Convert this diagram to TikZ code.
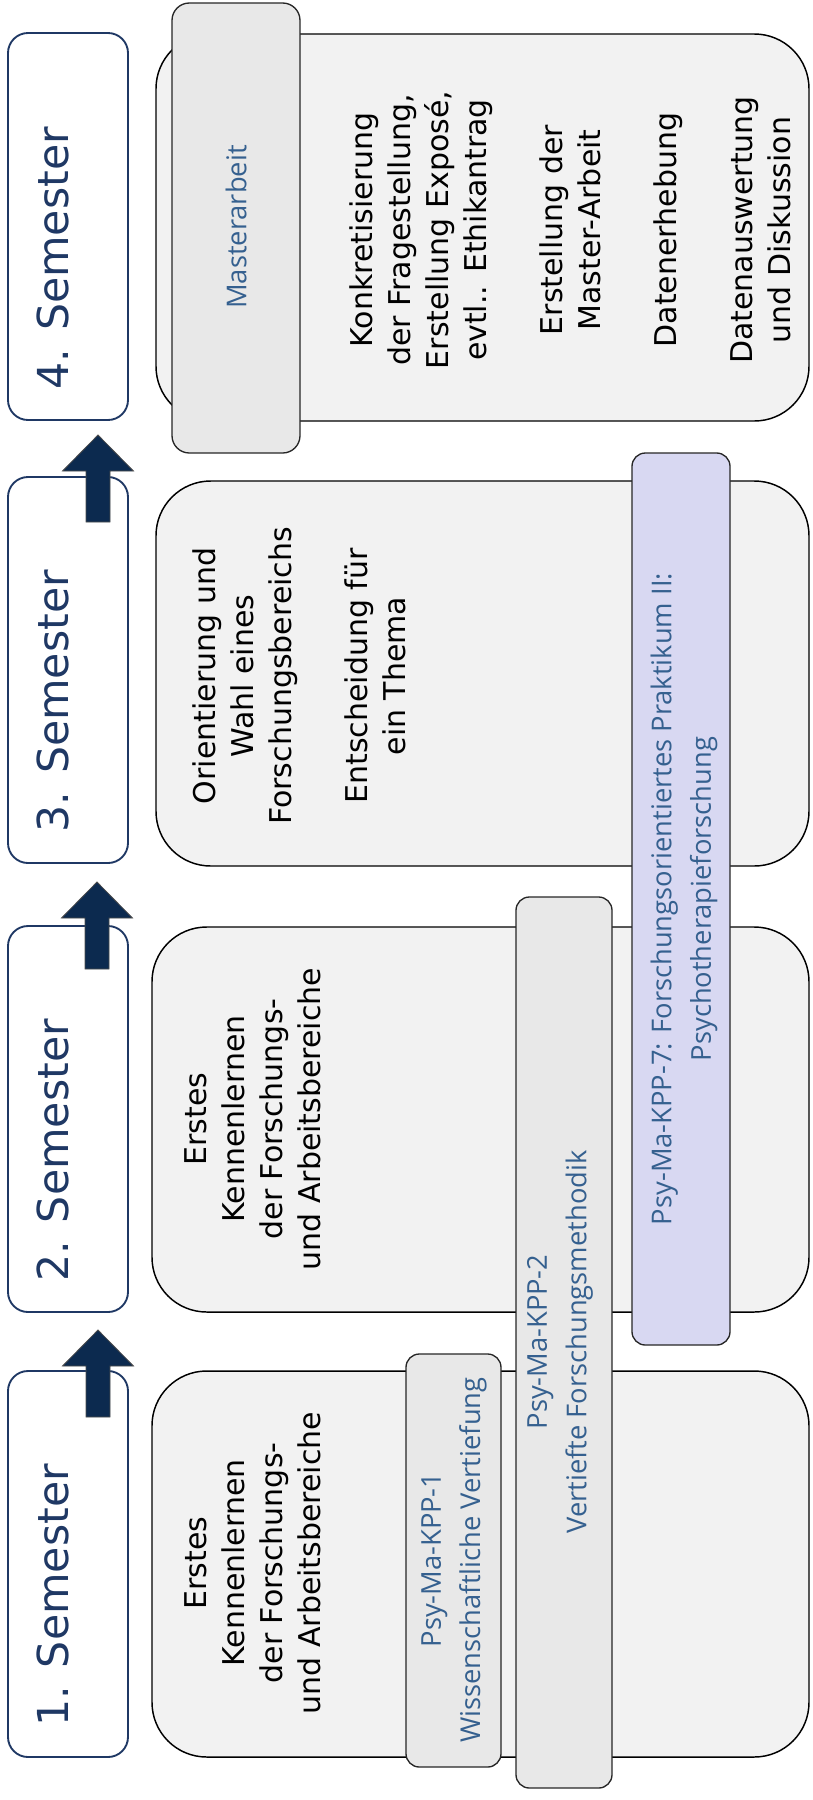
\documentclass[tikz,border=0pt]{standalone}
\usepackage{fontspec}
\setmainfont{DejaVu Sans}
\newfontfamily\modfont{Open Sans}
\usetikzlibrary{fit, calc}
\definecolor{semblue}{HTML}{1F3864}
\definecolor{arrowblue}{HTML}{0C2A4F}
\definecolor{modblue}{HTML}{35608F}
\definecolor{boxgrey}{HTML}{F2F2F2}
\definecolor{bargrey}{HTML}{E8E8E8}
\definecolor{barlila}{HTML}{D8D8F2}
\newcommand{\blockarrow}[2]{%
  \draw[semarrow] (#1-12,#2+87) -- (#1-12,#2+36) -- (#1-35.5,#2+36) -- (#1,#2)
    -- (#1+35.5,#2+36) -- (#1+12,#2+36) -- (#1+12,#2+87) -- cycle;}

\begin{document}
\begin{tikzpicture}[x=0.75pt, y=-0.75pt,
  semester/.style={draw=semblue, line width=1.4pt, rounded corners=15pt, inner sep=0pt},
  semtext/.style={rotate=90, anchor=west, inner sep=0pt, text=semblue, font=\fontsize{32}{38}\selectfont},
  bigbox/.style={draw=black, fill=boxgrey, line width=1.1pt, rounded corners=41pt, inner sep=0pt},
  modbar/.style={draw=black!85, fill=bargrey, line width=1pt, rounded corners=10pt, inner sep=0pt},
  content/.style={rotate=90, align=center, inner sep=0pt, font=\fontsize{22.5}{28.5}\selectfont},
  modtext/.style={rotate=90, align=center, inner sep=0pt, text=modblue, font=\modfont\fontsize{20.5}{29.5}\selectfont},
  semarrow/.style={fill=arrowblue, draw=black!70, line width=0.6pt}]
  \useasboundingbox (0,0) rectangle (813,1800);
  \node[semester, fit={(8,1371) (128,1757)}] (sem1) {};
  \node[semester, fit={(8,926) (128,1312)}] (sem2) {};
  \node[semester, fit={(8,477) (128,863)}] (sem3) {};
  \node[semester, fit={(8,33) (128,420)}] (sem4) {};
  \node[semtext] at (53,1727) {1. Semester};
  \node[semtext] at (53,1282) {2. Semester};
  \node[semtext] at (53,833) {3. Semester};
  \node[semtext] at (53,390) {4. Semester};

  \node[bigbox, fit={(152,1371) (809,1757)}] (box1) {};
  \node[bigbox, fit={(152,927) (809,1312)}] (box2) {};
  \node[bigbox, fit={(156,481) (809,866)}] (box3) {};
  \node[bigbox, fit={(156,34) (809,421)}] (box4) {};
  \node[content] (inhalt1) at (253,1563) {Erstes\\Kennenlernen\\der Forschungs-\\und Arbeitsbereiche};
  \node[content] (inhalt2) at (253,1119) {Erstes\\Kennenlernen\\der Forschungs-\\und Arbeitsbereiche};
  \node[content] (inhalt3) at (299,676) {Orientierung und\\Wahl eines\\Forschungsbereichs\\[28.5pt]Entscheidung für\\ein Thema};
  \node[content] (inhalt4) at (570,230) {Konkretisierung\\der Fragestellung,\\Erstellung Exposé,\\evtl.. Ethikantrag\\[28.5pt]Erstellung der\\Master-Arbeit\\[28.5pt]Datenerhebung\\[28.5pt]Datenauswertung\\und Diskussion};

  \node[modbar, fit={(406,1354) (501,1767)}] (kpp1) {};
  \node[modbar, fit={(516,897) (612,1788)}] (kpp2) {};
  \node[modbar, fill=barlila, fit={(632,453) (730,1345)}] (kpp7) {};
  \node[modbar, rounded corners=13pt, fit={(172,3) (300,453)}] (master) {};
  \node[modtext] at (454,1560) {Psy-Ma-KPP-1\\Wissenschaftliche Vertiefung};
  \node[modtext] at (560,1342) {Psy-Ma-KPP-2\\Vertiefte Forschungsmethodik};
  \node[modtext] at (684,899) {Psy-Ma-KPP-7: Forschungsorientiertes Praktikum II:\\Psychotherapieforschung};
  \node[modtext] at (236,227) {Masterarbeit};

  \blockarrow{98}{1330}
  \blockarrow{97}{882}
  \blockarrow{98}{435}
\end{tikzpicture}
\end{document}
